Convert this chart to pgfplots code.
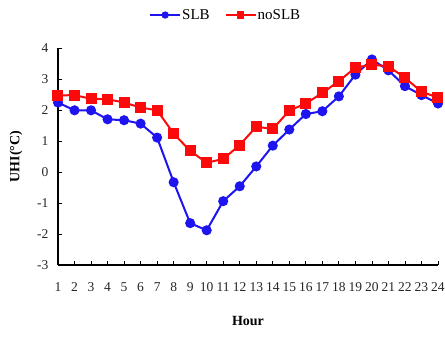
\documentclass[border=0pt]{standalone}
\usepackage{fontspec}
\setmainfont{Liberation Serif}
\usepackage{pgfplots}
\pgfplotsset{compat=1.18}
\definecolor{myblue}{RGB}{30,20,240}
\definecolor{myred}{RGB}{250,10,10}
\begin{document}
\begin{tikzpicture}
\useasboundingbox (-58pt,-73pt) rectangle (387pt,265pt);
\begin{axis}[
  scale only axis, width=380pt, height=217pt,
  xmin=1, xmax=24, ymin=-3, ymax=4,
  axis lines=left, axis line style={-, line width=1.6pt},
  xtick={1,...,24}, ytick={-3,-2,...,4},
  tick align=inside, major tick length=4pt,
  tick style={black, line width=0.8pt},
  /pgf/number format/assume math mode=true,
  tick label style={font=\fontsize{13.5}{13.5}\selectfont, text=black!85},
  xticklabel style={yshift=-14pt},
  yticklabel style={xshift=-6pt},
  xlabel={\textbf{Hour}}, xlabel style={font=\fontsize{14}{14}\selectfont, yshift=-18pt},
  ylabel={\textbf{UHI(°C)}}, ylabel style={font=\fontsize{14}{14}\selectfont, yshift=8pt},
  legend columns=2,
  legend style={draw=none, fill=none, at={(0.44,1.152)}, anchor=center,
    font=\fontsize{15}{15}\selectfont, /tikz/every even column/.append style={column sep=14pt},
    nodes={inner xsep=1pt}},
  legend image code/.code={\draw[#1] (0pt,0pt) -- (30pt,0pt); \draw[#1, mark repeat=1, mark size=2.6pt] plot coordinates {(15pt,0pt)};},
  clip=false,
]
\addplot[myblue, line width=2pt, mark=*, mark size=4pt] coordinates {
(1,2.24)(2,1.99)(3,1.99)(4,1.70)(5,1.67)(6,1.56)(7,1.11)(8,-0.33)(9,-1.65)(10,-1.88)(11,-0.94)(12,-0.46)
(13,0.18)(14,0.85)(15,1.37)(16,1.87)(17,1.96)(18,2.44)(19,3.14)(20,3.63)(21,3.28)(22,2.77)(23,2.48)(24,2.21)};
\addlegendentry{SLB}
\addplot[myred, line width=2pt, mark=square*, mark size=4.5pt] coordinates {
(1,2.47)(2,2.48)(3,2.36)(4,2.35)(5,2.24)(6,2.08)(7,1.99)(8,1.24)(9,0.68)(10,0.30)(11,0.42)(12,0.87)
(13,1.46)(14,1.39)(15,1.98)(16,2.21)(17,2.55)(18,2.93)(19,3.37)(20,3.46)(21,3.41)(22,3.04)(23,2.59)(24,2.40)};
\addlegendentry{noSLB}
\end{axis}
\end{tikzpicture}
\end{document}
